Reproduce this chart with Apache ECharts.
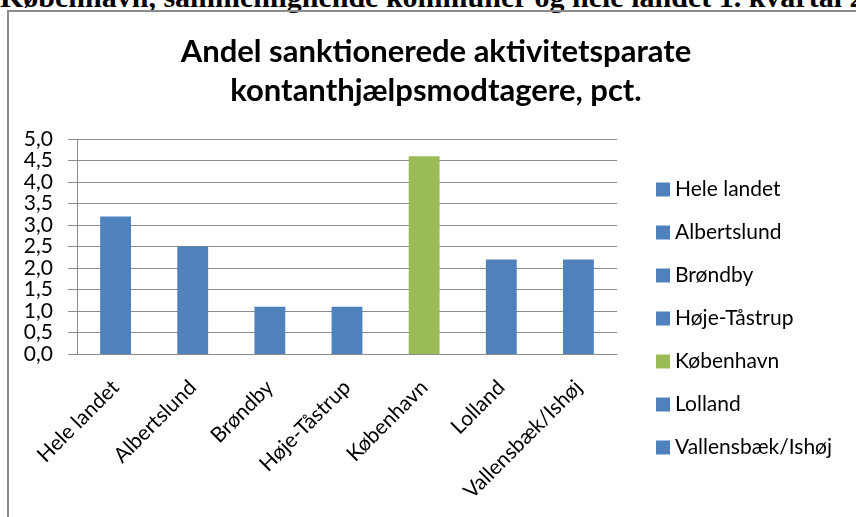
<!DOCTYPE html>
<html>
<head>
<meta charset="utf-8">
<script src="https://cdn.jsdelivr.net/npm/echarts@6/dist/echarts.min.js"></script>
<style>
  html, body { margin: 0; padding: 0; background: #fff; overflow: hidden; }
  #header {
    position: absolute; left: 0; top: -18px; white-space: nowrap;
    font-family: "Liberation Serif", serif; font-weight: bold; font-size: 30px; line-height: 30px;
  }
  #frame {
    position: absolute; left: 7px; top: 10px; width: 900px; height: 600px;
    border-left: 2px solid #8c8c8c; border-top: 2px solid #8c8c8c;
  }
  #chart { position: absolute; left: 0; top: 0; width: 856px; height: 517px; }
</style>
</head>
<body>
<div id="header">København, sammenlignende kommuner og hele landet 1. kvartal 2013</div>
<div id="frame"></div>
<div id="chart"></div>
<script>
const categories = ["Hele landet", "Albertslund", "Brøndby", "Høje-Tåstrup", "København", "Lolland", "Vallensbæk/Ishøj"];
const values = [3.2, 2.5, 1.1, 1.1, 4.6, 2.2, 2.2];
const colors = ["#4F81BD", "#4F81BD", "#4F81BD", "#4F81BD", "#9BBB59", "#4F81BD", "#4F81BD"];
const yTicks = [0, 0.5, 1, 1.5, 2, 2.5, 3, 3.5, 4, 4.5, 5];

const font = "Lato";

// one series per kommune so the legend lists every bar
const series = categories.map(function (name, i) {
    return {
        name: name,
        type: "bar",
        stack: "total",
        barWidth: "40%",
        itemStyle: { color: colors[i] },
        data: categories.map(function (c, j) { return j === i ? values[i] : "-"; })
    };
});

const option = {
    animation: false,
    title: {
        text: "Andel sanktionerede aktivitetsparate\nkontanthjælpsmodtagere, pct.",
        left: 431,
        top: 27,
        textAlign: "center",
        textStyle: { fontFamily: font, fontWeight: "bold", fontSize: 31, lineHeight: 39, color: "#000" }
    },
    legend: {
        orient: "vertical",
        left: 651,
        top: 174,
        itemWidth: 14,
        itemHeight: 14,
        itemGap: 22,
        icon: "rect",
        textStyle: { fontFamily: font, fontSize: 21, lineHeight: 21, color: "#000" },
        data: categories
    },
    grid: { left: 77, right: 239, top: 139, bottom: 163 },
    xAxis: {
        type: "category",
        data: categories,
        axisLine: { lineStyle: { color: "#8c8c8c", width: 1 } },
        axisTick: { length: 8, lineStyle: { color: "#8c8c8c" } },
        axisLabel: { rotate: 45, margin: 30, fontFamily: font, fontSize: 21, color: "#000", interval: 0 }
    },
    yAxis: {
        type: "value",
        min: yTicks[0],
        max: yTicks[yTicks.length - 1],
        interval: 0.5,
        axisLine: { show: true, lineStyle: { color: "#8c8c8c" } },
        axisTick: { show: true, inside: false, length: 9, lineStyle: { color: "#8c8c8c" } },
        splitLine: { lineStyle: { color: "#8c8c8c" } },
        axisLabel: {
            margin: 24, fontFamily: font, fontSize: 21, color: "#000",
            formatter: function (v) { return v.toFixed(1).replace(".", ","); }
        }
    },
    series: series
};

var myChart = echarts.init(document.getElementById("chart"));
myChart.setOption(option);
</script>
</body>
</html>
